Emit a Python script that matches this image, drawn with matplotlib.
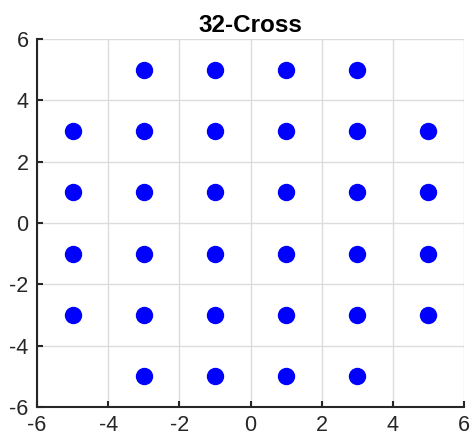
import matplotlib.pyplot as plt

# 32-Cross constellation points (I, Q)
i_vals = [-3, -1, 1, 3,
          -5, -3, -1, 1, 3, 5,
          -5, -3, -1, 1, 3, 5,
          -5, -3, -1, 1, 3, 5,
          -5, -3, -1, 1, 3, 5,
          -3, -1, 1, 3]
q_vals = [5, 5, 5, 5,
          3, 3, 3, 3, 3, 3,
          1, 1, 1, 1, 1, 1,
          -1, -1, -1, -1, -1, -1,
          -3, -3, -3, -3, -3, -3,
          -5, -5, -5, -5]
ticks = [-6, -4, -2, 0, 2, 4, 6]

plt.rcParams['font.family'] = ['Liberation Sans', 'DejaVu Sans']
plt.rcParams['axes.unicode_minus'] = False

fig = plt.figure(figsize=(4.73, 4.43), dpi=100)
ax = fig.add_axes([0.0782, 0.0813, 0.9028, 0.8307])

ax.plot(i_vals, q_vals, 'o', color='#0000ff', markersize=11.5, zorder=3)

ax.set_xlim(-6, 6)
ax.set_ylim(-6, 6)
ax.set_xticks(ticks)
ax.set_yticks(ticks)
ax.grid(True, color='#dcdcdc', linewidth=1.0)
ax.set_axisbelow(True)

for side in ['top', 'right']:
    ax.spines[side].set_visible(False)
for side in ['left', 'bottom']:
    ax.spines[side].set_linewidth(1.5)
    ax.spines[side].set_color('#262626')

ax.tick_params(direction='in', length=4, width=1.5, labelsize=15.5,
               colors='#262626', pad=6)

ax.set_title('32-Cross', fontsize=17.5, fontweight='bold', pad=5)

fig.savefig('out.png', dpi=100)
